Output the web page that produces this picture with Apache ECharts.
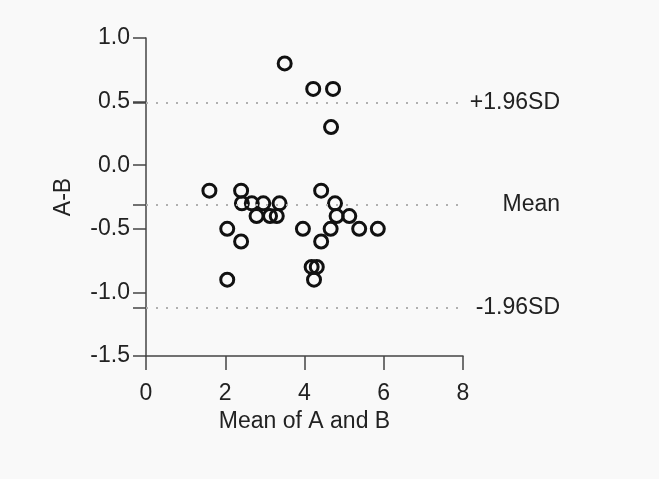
<!DOCTYPE html>
<html>
<head>
<meta charset="utf-8">
<script src="https://cdn.jsdelivr.net/npm/echarts@6/dist/echarts.min.js"></script>
<style>
  html, body { margin: 0; padding: 0; background: #f9f9f9; }
  #chart { width: 659px; height: 479px; }
</style>
</head>
<body>
<div id="chart"></div>
<script>
// mean of A and B (x) and difference A-B (y)
const meanAB = [3.5, 4.22, 4.72, 4.67,
  1.6, 2.4, 4.42,
  2.42, 2.67, 2.96, 3.37, 4.77,
  2.79, 3.13, 3.3, 4.81, 5.13,
  2.05, 3.96, 4.66, 5.38, 5.85,
  2.4, 4.42,
  4.18, 4.31,
  2.05, 4.24];
const diffAB = [0.8, 0.6, 0.6, 0.3,
  -0.2, -0.2, -0.2,
  -0.3, -0.3, -0.3, -0.3, -0.3,
  -0.4, -0.4, -0.4, -0.4, -0.4,
  -0.5, -0.5, -0.5, -0.5, -0.5,
  -0.6, -0.6,
  -0.8, -0.8,
  -0.9, -0.9];

const limitNames = ['+1.96SD', 'Mean', '-1.96SD'];
const limitValues = [0.49, -0.31, -1.12];

const yTicks = [1.0, 0.5, 0.0, -0.5, -1.0, -1.5];

const font = 'Liberation Sans, Arial, sans-serif';
const fs = 23;

const initChart = () => {
  const myChart = echarts.init(document.getElementById('chart'));

  const points = meanAB.map((x, i) => [x, diffAB[i]]);

  myChart.setOption({
    backgroundColor: '#f9f9f9',
    animation: false,
    grid: { left: 146, right: 196, top: 38, bottom: 123 },
    xAxis: {
      type: 'value',
      min: 0, max: 8, interval: 2,
      name: 'Mean of A and B',
      nameLocation: 'middle',
      nameGap: 51,
      nameTextStyle: { fontFamily: font, fontSize: fs, color: '#222' },
      axisLine: { onZero: false, lineStyle: { color: '#444', width: 1.5 } },
      axisTick: { length: 14, lineStyle: { color: '#444', width: 1.5 } },
      axisLabel: { margin: 26, fontFamily: font, fontSize: fs, color: '#222' },
      splitLine: { show: false }
    },
    yAxis: {
      type: 'value',
      min: -1.5, max: 1.0, interval: 0.5,
      name: 'A-B',
      nameLocation: 'middle',
      nameGap: 71,
      nameTextStyle: { fontFamily: font, fontSize: fs, color: '#222' },
      axisLine: { onZero: false, lineStyle: { color: '#444', width: 1.5 } },
      axisTick: {
        length: 13,
        customValues: yTicks.concat(limitValues),
        lineStyle: { color: '#444', width: 1.5 }
      },
      axisLabel: {
        margin: 16, fontFamily: font, fontSize: fs, color: '#222',
        customValues: yTicks,
        formatter: v => v.toFixed(1)
      },
      splitLine: { show: false }
    },
    series: [{
      type: 'scatter',
      data: points,
      symbol: 'circle',
      symbolSize: 13,
      itemStyle: { color: 'rgba(0,0,0,0)', borderColor: '#111', borderWidth: 3, opacity: 1 },
      markLine: {
        silent: true,
        symbol: 'none',
        lineStyle: { type: [2, 8], color: '#b0b0b0', width: 2 },
        label: {
          position: 'end',
          distance: 3,
          fontFamily: font,
          fontSize: fs,
          color: '#222',
          formatter: p => '{t|' + p.name + '}',
          rich: { t: { width: 94, align: 'right', fontFamily: font, fontSize: fs, color: '#222' } }
        },
        data: limitValues.map((v, i) => ({ yAxis: v, name: limitNames[i] }))
      }
    }]
  });
};

window.addEventListener('load', initChart);
</script>
</body>
</html>
